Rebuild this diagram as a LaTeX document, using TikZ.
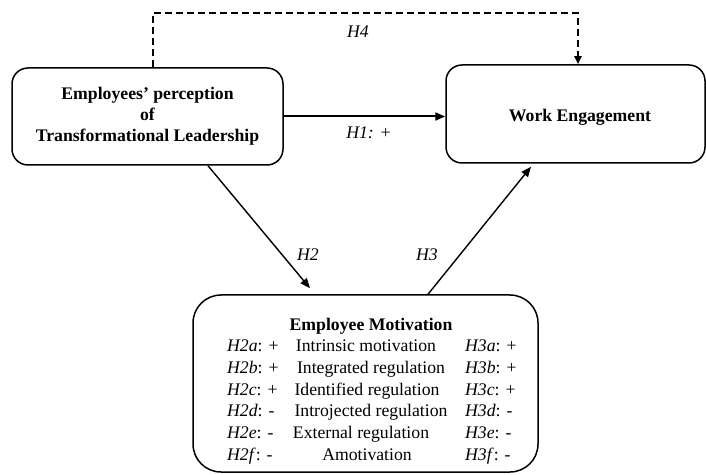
\documentclass[tikz,border=0pt]{standalone}
\usepackage{fontspec}
\setmainfont{Liberation Serif}
\usetikzlibrary{arrows.meta,calc}
\begin{document}
\begin{tikzpicture}[x=1pt,y=1pt,
  box/.style={draw, line width=1.5pt, rounded corners=16pt, inner sep=0pt, align=center,
    font=\bfseries\fontsize{17.7}{21}\selectfont},
  rowtxt/.style={inner sep=0pt, font=\fontsize{17.7}{21}\selectfont},
  lbl/.style={inner sep=0pt, font=\itshape\fontsize{17.7}{21}\selectfont},
  arr/.style={line width=1.4pt, -{Triangle[length=10pt,width=8pt]}},
  arrthick/.style={line width=2pt, -{Triangle[length=10pt,width=8pt]}},
  dasharr/.style={line width=2pt, dash pattern=on 7pt off 4pt, -{Triangle[length=8pt,width=7pt]}}
]
\useasboundingbox (0,0) rectangle (706,474);

\node[box, minimum width=271, minimum height=97] (lt) at (147.5,357.5)
  {Employees’ perception\\of\\Transformational Leadership};
\node[box, minimum width=259, minimum height=98] (we) at (575.5,360) {};
\node[rowtxt, font=\bfseries\fontsize{17.7}{21}\selectfont] (wet) at (580,357) {Work Engagement};
\node[box, rounded corners=28pt, minimum width=345, minimum height=177] (mot) at (365.5,90.5) {};

\node[rowtxt, font=\bfseries\fontsize{17.7}{21}\selectfont, anchor=base] (hd) at (371,143) {Employee Motivation};

\node[rowtxt, anchor=base west] (l1) at (227,123) {\textit{H2a}: +};
\node[rowtxt, anchor=base] (m1) at (366,123) {Intrinsic motivation};
\node[rowtxt, anchor=base west] (r1) at (465,123) {\textit{H3a}: +};

\node[rowtxt, anchor=base west] (l2) at (227,101) {\textit{H2b}: +};
\node[rowtxt, anchor=base] (m2) at (371,101) {Integrated regulation};
\node[rowtxt, anchor=base west] (r2) at (465,101) {\textit{H3b}: +};

\node[rowtxt, anchor=base west] (l3) at (227,79) {\textit{H2c}: +};
\node[rowtxt, anchor=base] (m3) at (367,79) {Identified regulation};
\node[rowtxt, anchor=base west] (r3) at (465,79) {\textit{H3c}: +};

\node[rowtxt, anchor=base west] (l4) at (227,58) {\textit{H2d}: -};
\node[rowtxt, anchor=base] (m4) at (371,58) {Introjected regulation};
\node[rowtxt, anchor=base west] (r4) at (465,58) {\textit{H3d}: -};

\node[rowtxt, anchor=base west] (l5) at (227,36) {\textit{H2e}: -};
\node[rowtxt, anchor=base] (m5) at (361,36) {External regulation};
\node[rowtxt, anchor=base west] (r5) at (465,36) {\textit{H3e}: -};

\node[rowtxt, anchor=base west] (l6) at (227,14) {\textit{H2f}: -};
\node[rowtxt, anchor=base] (m6) at (367,14) {Amotivation};
\node[rowtxt, anchor=base west] (r6) at (465,14) {\textit{H3f}: -};

\node[lbl] (h4) at (358,442) {H4};
\node[lbl] (h1) at (369,341) {H1: +};
\node[lbl] (h2) at (308,219) {H2};
\node[lbl] (h3) at (427,219) {H3};

\draw[arrthick] (lt.east) -- (lt.east -| we.west);
\draw[arr] ([xshift=60.5pt]lt.south) -- ([xshift=-55.5pt,yshift=6pt]mot.north);
\draw[arr] ([xshift=62.5pt]mot.north) -- ([xshift=-44.5pt,yshift=-3pt]we.south);
\draw[dasharr] ([xshift=5.5pt]lt.north) -- ++(0,54) coordinate (dtop) -| ([xshift=2.5pt]we.north);
\end{tikzpicture}
\end{document}
